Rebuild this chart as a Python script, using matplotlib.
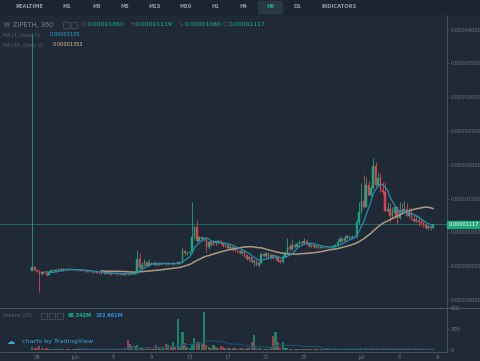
import numpy as np
import pandas as pd
import matplotlib
matplotlib.use('Agg')
import matplotlib.pyplot as plt
from matplotlib.lines import Line2D
from matplotlib.patches import Rectangle

# precos em satoshis (1e-8 ETH), velas de 6h desde 27 Mai 12:00
first_open = 435
closes = [494, 440, 430, 380, 420, 405, 370, 420, 440, 425,
          445, 460, 440, 455, 450, 462, 445, 450, 440, 448,
          438, 442, 425, 432, 420, 410, 418, 405, 398, 410,
          400, 392, 405, 385, 395, 380, 392, 385, 375, 390,
          380, 395, 385, 398, 600, 470, 520, 560, 510, 545,
          530, 550, 525, 548, 535, 545, 530, 542, 528, 545,
          535, 555, 545, 720, 690, 700, 715, 930, 1075, 880,
          930, 900, 920, 780, 860, 820, 870, 840, 880, 850,
          800, 820, 775, 790, 745, 770, 725, 700, 720, 660,
          610, 630, 560, 580, 520, 550, 680, 650, 690, 640,
          660, 620, 640, 580, 560, 640, 700, 780, 750, 820,
          790, 830, 860, 840, 870, 850, 800, 820, 785, 800,
          775, 790, 780, 790, 778, 785, 795, 810, 860, 900,
          880, 920, 940, 915, 935, 925, 1150, 1300, 1470, 1380,
          1700, 1560, 1650, 1980, 1700, 1800, 1620, 1600, 1320, 1350,
          1240, 1280, 1380, 1220, 1330, 1300, 1340, 1250, 1280, 1200,
          1170, 1190, 1150, 1140, 1110, 1070, 1090, 1060, 1117]
highs = [3950, 500, 450, 440, 430, 425, 410, 430, 450, 445,
         455, 475, 470, 465, 470, 468, 465, 458, 455, 460,
         452, 450, 445, 440, 436, 428, 425, 420, 412, 418,
         415, 405, 412, 410, 402, 400, 398, 398, 392, 396,
         395, 400, 400, 405, 740, 695, 560, 610, 580, 600,
         560, 570, 555, 560, 552, 560, 550, 555, 548, 556,
         550, 565, 560, 790, 740, 720, 730, 1454, 1090, 1183,
         950, 940, 935, 925, 880, 870, 890, 880, 895, 890,
         860, 840, 830, 810, 800, 790, 775, 735, 740, 725,
         670, 650, 640, 600, 590, 565, 715, 700, 705, 700,
         680, 675, 660, 650, 600, 660, 720, 917, 830, 900,
         840, 860, 890, 880, 917, 900, 860, 835, 830, 815,
         805, 800, 795, 800, 795, 800, 805, 830, 900, 940,
         925, 962, 965, 950, 955, 950, 1200, 1454, 1730, 1849,
         1824, 1760, 1700, 2096, 2046, 1890, 1880, 1750, 1750, 1454,
         1440, 1380, 1400, 1390, 1454, 1440, 1460, 1430, 1380, 1360,
         1270, 1260, 1240, 1200, 1190, 1120, 1100, 1095, 1119]
lows = [430, 430, 410, 118, 375, 395, 360, 365, 415, 420,
        420, 440, 435, 435, 445, 445, 440, 440, 432, 435,
        430, 428, 420, 418, 412, 400, 405, 395, 390, 392,
        388, 385, 386, 375, 378, 372, 375, 370, 365, 368,
        372, 375, 378, 380, 390, 455, 460, 500, 500, 505,
        515, 520, 510, 520, 525, 530, 522, 525, 520, 525,
        528, 530, 530, 540, 660, 670, 680, 700, 900, 860,
        870, 870, 880, 715, 760, 800, 810, 800, 830, 835,
        785, 790, 760, 740, 720, 730, 700, 680, 670, 640,
        590, 580, 540, 510, 500, 495, 540, 630, 620, 600,
        610, 600, 590, 560, 540, 550, 630, 690, 720, 740,
        770, 780, 820, 815, 830, 820, 770, 790, 769, 775,
        760, 768, 770, 772, 768, 770, 775, 785, 800, 850,
        860, 870, 900, 900, 905, 910, 920, 1120, 1280, 1360,
        1380, 1540, 1540, 1640, 1680, 1680, 1600, 1560, 1300, 1300,
        1160, 1220, 1232, 1130, 1200, 1280, 1290, 1240, 1230, 1180,
        1150, 1160, 1100, 1110, 1085, 1050, 1040, 1035, 1060]
# volume em milhoes
volumes = [30, 20, 15, 40, 18, 12, 15, 10, 12, 8,
           10, 12, 8, 9, 7, 10, 8, 6, 9, 7,
           8, 6, 10, 7, 8, 12, 9, 7, 10, 8,
           9, 7, 11, 8, 10, 7, 9, 12, 8, 16,
           95, 57, 40, 35, 45, 20, 15, 12, 18, 14,
           10, 12, 50, 15, 14, 15, 55, 50, 30, 80,
           40, 300, 30, 175, 70, 30, 20, 55, 114, 80,
           80, 60, 365, 45, 30, 20, 50, 25, 20, 35,
           25, 18, 20, 15, 22, 18, 14, 20, 16, 12,
           15, 18, 80, 143, 20, 15, 12, 14, 10, 12,
           15, 130, 175, 80, 20, 75, 20, 15, 12, 10,
           12, 9, 10, 8, 12, 10, 9, 8, 10, 7,
           8, 9, 7, 10, 8, 9, 7, 8, 12, 10,
           9, 11, 8, 10, 7, 9, 14, 12, 15, 13,
           16, 12, 14, 18, 15, 12, 10, 11, 14, 10,
           9, 8, 10, 9, 8, 10, 7, 9, 8, 10,
           7, 8, 6, 9, 7, 8, 6, 7, 8]

tick_days = [0, 4, 8, 12, 16, 20, 24, 28, 34, 38, 42]
tick_labels = ['28', 'Jun', '5', '9', '13', '17', '21', '25', 'Jul', '5', '9']
price_ticks = [0, 500, 1000, 1500, 2000, 2500, 3000, 3500, 4000]
vol_ticks = [0, 200, 400]
vol_tick_labels = ['0', '200', '400']
timeframes = ['REALTIME', 'M1', 'M3', 'M5', 'M15', 'M30', 'H1', 'H4', 'H6', 'D1', 'INDICATORS']
tf_x = [29, 67, 97, 125, 155, 186, 215, 243, 270, 297, 339]

bg = '#1f2a36'
grey = '#6d7a86'
up = '#1fa67e'
down = '#e0404f'

W, H = 480, 361
def fx(x):
    return x / W
def fy(y):
    return 1 - y / H

closes = np.array(closes, dtype=float)
opens = np.concatenate([[first_open], closes[:-1]])
highs = np.array(highs, dtype=float)
lows = np.array(lows, dtype=float)
volumes = np.array(volumes, dtype=float)
days = -0.5 + 0.25 * np.arange(len(closes))
ma7 = pd.Series(closes).rolling(7).mean()
ma30 = pd.Series(closes).rolling(30).mean()
vma = pd.Series(volumes).rolling(20).mean()
is_up = closes >= opens
cols = np.where(is_up, up, down)

fig = plt.figure(figsize=(4.8, 3.61), dpi=100, facecolor=bg)

# escala x: 28 Mai a 37px, 9.54 px por dia
x0 = -37 / 9.54
x1 = (446.7 - 37) / 9.54

ax = fig.add_axes([0, fy(307.5), fx(446.7), fy(15) - fy(307.5)])
ax.set_facecolor(bg)
ax.set_xlim(x0, x1)
ax.set_ylim(-(307.5 - 300) / 0.0676, (300 - 15) / 0.0676)

ax.axhline(closes[-1], color='#1d6d5e', lw=0.7, zorder=1)
ax.vlines(days, lows, highs, colors=cols, lw=0.6, zorder=2)
ax.bar(days, closes - opens, bottom=opens, width=0.17, color=cols,
       edgecolor=cols, lw=0.3, zorder=3)
ax.plot(days, ma30, color='#ad9a80', lw=1.1, zorder=4)
ax.plot(days, ma7, color='#1e8fb3', lw=0.9, zorder=4)

for s in ['top', 'left', 'bottom']:
    ax.spines[s].set_visible(False)
ax.spines['right'].set_color('#4a5662')
ax.spines['right'].set_linewidth(0.6)
ax.set_xticks([])
ax.yaxis.tick_right()
ax.set_yticks(price_ticks)
ax.set_yticklabels(['%.8f' % (p * 1e-8) for p in price_ticks])
ax.tick_params(axis='y', colors='#4a5662', labelcolor=grey, labelsize=3.6,
               length=1.5, width=0.5, pad=1)

# caixa do preco actual
ylab = fy(300 - 0.0676 * closes[-1])
fig.patches.append(Rectangle((fx(447), ylab - 3.8 / H), fx(33), 7.6 / H,
                             transform=fig.transFigure, color='#22a878', zorder=5))
fig.text(fx(449), ylab, '%.8f' % (closes[-1] * 1e-8), color='white', fontsize=3.6,
         va='center', ha='left', zorder=6)

# painel de volume
axv = fig.add_axes([0, fy(352), fx(446.7), fy(308) - fy(352)])
axv.set_facecolor(bg)
axv.set_xlim(x0, x1)
axv.set_ylim(-19, 400)
vcols = np.where(is_up, '#1a8468', '#aa3a48')
axv.bar(days, volumes, width=0.22, color=vcols, zorder=2)
axv.plot(days, vma, color='#1d4f73', lw=0.8, zorder=3)
axv.spines['top'].set_visible(False)
axv.spines['left'].set_visible(False)
axv.spines['right'].set_color('#4a5662')
axv.spines['bottom'].set_color('#4a5662')
axv.spines['right'].set_linewidth(0.6)
axv.spines['bottom'].set_linewidth(0.6)
axv.yaxis.tick_right()
axv.set_yticks(vol_ticks)
axv.set_yticklabels(vol_tick_labels)
axv.set_xticks(tick_days)
axv.set_xticklabels(tick_labels)
axv.tick_params(colors='#4a5662', labelcolor=grey, labelsize=3.8,
                length=1.5, width=0.5, pad=1)

# separador entre paineis
fig.add_artist(Line2D([0, 1], [fy(307.7), fy(307.7)], color='#4a5662', lw=0.7))

# barra de cima
fig.patches.append(Rectangle((0, fy(14)), 1, 14 / H, transform=fig.transFigure,
                             color='#1b2530', zorder=0))
fig.patches.append(Rectangle((fx(258), fy(13)), fx(24), 12 / H, transform=fig.transFigure,
                             color='#2a3845', zorder=1))
for t, x in zip(timeframes, tf_x):
    c = '#1fb585' if t == 'H6' else '#8c9aa8'
    fig.text(fx(x), fy(7), t, color=c, fontsize=3.7, fontweight='bold',
             ha='center', va='center')

# legenda
fig.text(fx(3), fy(24.5), '\u25a4', color='#5b6874', fontsize=4.5, va='center')
fig.text(fx(13), fy(24.5), 'ZIPETH, 360', color='#75828e', fontsize=4.8, va='center')
fig.patches.append(Rectangle((fx(63), fy(28)), fx(6), 6 / H, transform=fig.transFigure,
                             fill=False, edgecolor='#4a5662', lw=0.5))
fig.patches.append(Rectangle((fx(71), fy(28)), fx(6), 6 / H, transform=fig.transFigure,
                             fill=False, edgecolor='#4a5662', lw=0.5))
ohlc = [('O', 82, opens[-1]), ('H', 130, highs[-1]), ('L', 179, lows[-1]), ('C', 223, closes[-1])]
for k, x, v in ohlc:
    fig.text(fx(x), fy(24.5), k, color='#5b6874', fontsize=4.4, va='center')
    fig.text(fx(x + 6), fy(24.5), '%.8f' % (v * 1e-8), color='#1fb585', fontsize=4.4, va='center')
fig.text(fx(3), fy(35), 'MA (7, close, 0)', color='#56636f', fontsize=3.4, va='center')
fig.text(fx(50), fy(35), '%.8f' % (ma7.iloc[-1] * 1e-8), color='#22a9d8', fontsize=3.6, va='center')
fig.text(fx(3), fy(45), 'MA (30, close, 0)', color='#56636f', fontsize=3.4, va='center')
fig.text(fx(53), fy(45), '%.8f' % (ma30.iloc[-1] * 1e-8), color='#f2c290', fontsize=3.6, va='center')

fig.text(fx(3), fy(315.7), 'Volume (20)', color='#56636f', fontsize=3.4, va='center')
for x in [41, 49, 57]:
    fig.patches.append(Rectangle((fx(x), fy(318.5)), fx(6), 6 / H, transform=fig.transFigure,
                                 fill=False, edgecolor='#4a5662', lw=0.5))
fig.text(fx(68), fy(315.7), '68.342M', color='#1fb585', fontsize=3.6, va='center', fontweight='bold')
fig.text(fx(95), fy(315.7), '152.661M', color='#2b8fe0', fontsize=3.6, va='center', fontweight='bold')

fig.text(fx(7), fy(342), '\u2601', color='#3aa8e0', fontsize=6, va='center')
fig.text(fx(22), fy(342), 'charts by TradingView', color='#3aa8e0', fontsize=4.6, va='center')

fig.savefig('out.png', dpi=100, facecolor=bg)
